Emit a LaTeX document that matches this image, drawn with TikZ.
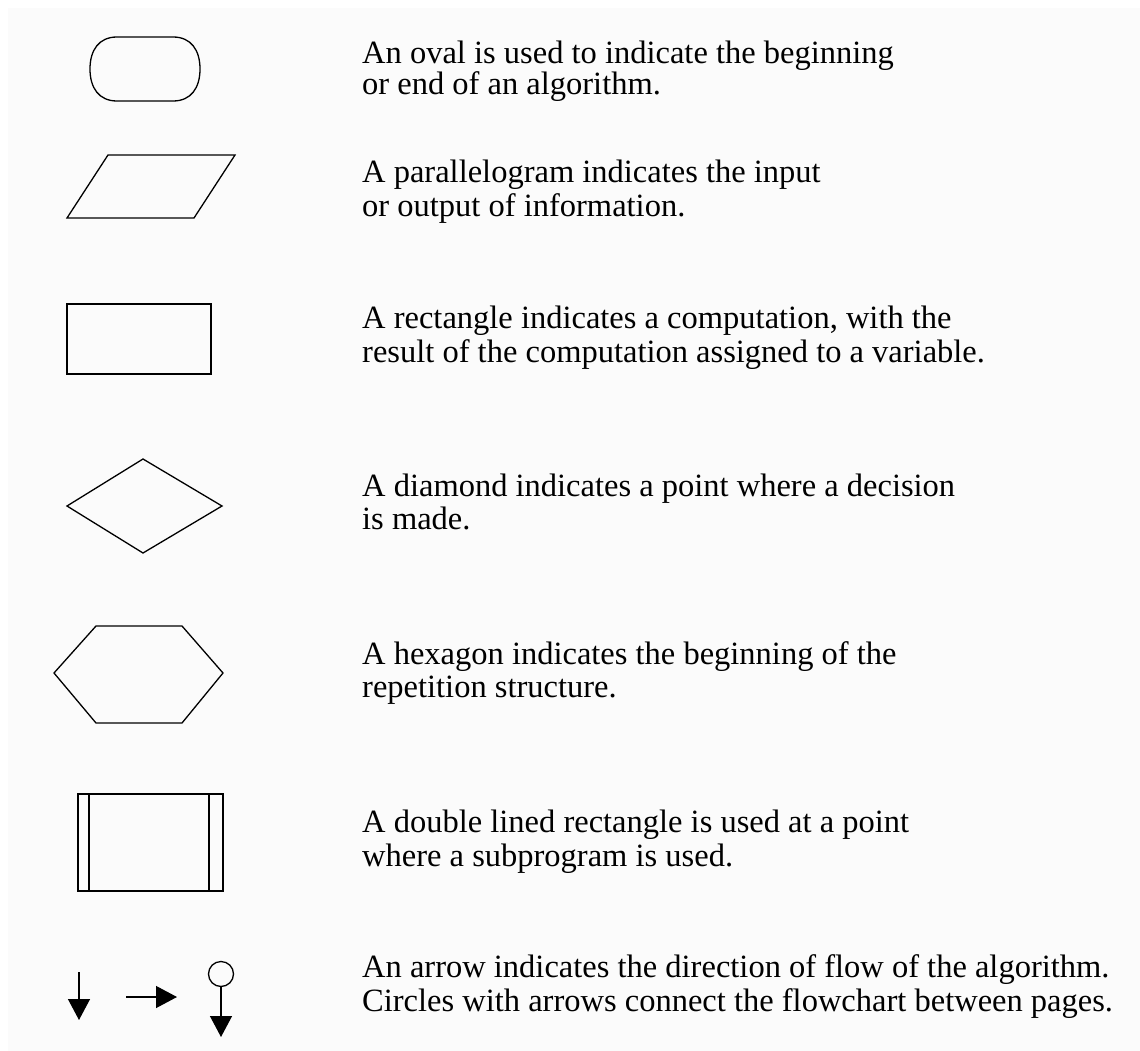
\documentclass[tikz,border=0pt]{standalone}
\usepackage{fontspec}
\setmainfont{Liberation Serif}
\usetikzlibrary{arrows.meta}
\definecolor{bgpanel}{HTML}{FBFBFB}
\tikzset{
  shapeline/.style={draw=black, line width=1.3pt, line join=miter},
  txt/.style={anchor=base west, inner sep=0pt, font=\fontsize{32.5}{34}\selectfont},
  flowarrow/.style={draw=black, line width=1.3pt, -{Triangle[length=21pt,width=22pt]}},
}
\begin{document}
\begin{tikzpicture}[x=1pt,y=-1pt]
\useasboundingbox (0,0) rectangle (1140,1051);
\fill[white] (0,0) rectangle (1140,1051);
\fill[bgpanel] (8,8) rectangle (1140,1051);

% oval
\node[inner sep=0pt, minimum width=110pt, minimum height=64pt] (oval) at (145,69) {};
\draw[shapeline] (117,37) -- (173,37) .. controls (191,37) and (200,50) .. (200,69)
  .. controls (200,88) and (191,101) .. (173,101) -- (117,101)
  .. controls (99,101) and (90,88) .. (90,69) .. controls (90,50) and (99,37) .. (117,37) -- cycle;
% parallelogram
\draw[shapeline] (108,155) -- (235,155) -- (194,218) -- (67,218) -- cycle;
\node[inner sep=0pt] (para) at (151,186.5) {};
% rectangle
\node[shapeline, minimum width=144pt, minimum height=70pt, inner sep=0pt] (rect) at (139,339) {};
% diamond
\draw[shapeline] (67,506) -- (143,459) -- (222,506) -- (143,553) -- cycle;
\node[inner sep=0pt] (dia) at (143,506) {};
% hexagon
\draw[shapeline] (54,673) -- (96,626) -- (182,626) -- (223,673) -- (182,723) -- (96,723) -- cycle;
\node[inner sep=0pt] (hex) at (139,673) {};
% double lined rectangle
\node[shapeline, minimum width=145pt, minimum height=97pt, inner sep=0pt] (sub) at (150.5,842.5) {};
\draw[shapeline] (89,794) -- (89,891);
\draw[shapeline] (209,794) -- (209,891);

% arrows
\coordinate (a1s) at (79,972);
\coordinate (a1e) at (79,1020);
\draw[flowarrow] (a1s) -- (a1e);
\coordinate (a2s) at (126,997);
\coordinate (a2e) at (177,997);
\draw[flowarrow] (a2s) -- (a2e);
\node[shapeline, circle, minimum size=25pt, inner sep=0pt] (conn) at (221,974) {};
\coordinate (a3e) at (221,1037);
\draw[flowarrow] (conn.south) -- (a3e);

% texts
\node[txt] (t1a) at (362,64) {An oval is used to indicate the beginning};
\node[txt] (t1b) at (362,95) {or end of an algorithm.};
\node[txt] (t2a) at (362,183) {A parallelogram indicates the input};
\node[txt] (t2b) at (362,216) {or output of information.};
\node[txt] (t3a) at (362,328) {A rectangle indicates a computation, with the};
\node[txt] (t3b) at (362,362) {result of the computation assigned to a variable.};
\node[txt] (t4a) at (362,496) {A diamond indicates a point where a decision};
\node[txt] (t4b) at (362,529) {is made.};
\node[txt] (t5a) at (362,664) {A hexagon indicates the beginning of the};
\node[txt] (t5b) at (362,697) {repetition structure.};
\node[txt] (t6a) at (362,832) {A double lined rectangle is used at a point};
\node[txt] (t6b) at (362,866) {where a subprogram is used.};
\node[txt] (t7a) at (362,977) {An arrow indicates the direction of flow of the algorithm.};
\node[txt] (t7b) at (362,1011) {Circles with arrows connect the flowchart between pages.};
\end{tikzpicture}
\end{document}
